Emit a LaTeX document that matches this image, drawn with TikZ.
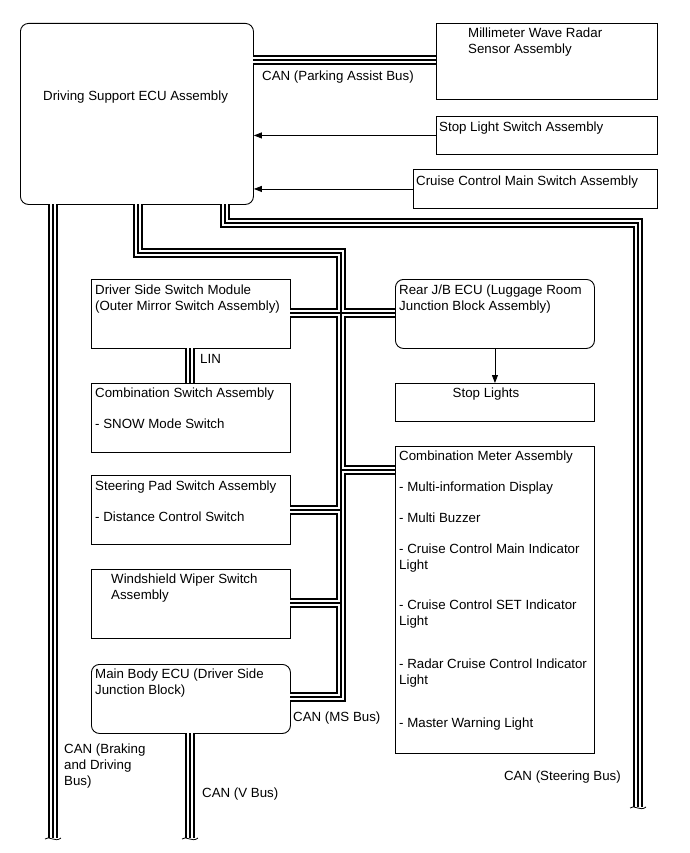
\documentclass[tikz,border=0pt]{standalone}
\usepackage{fontspec}
\setmainfont{Liberation Sans}
\usetikzlibrary{arrows.meta,calc}

\begin{document}
\begin{tikzpicture}[x=1pt,y=-1pt,
  box/.style={draw=black, line width=0.9pt, rectangle, inner sep=0pt, anchor=north west},
  rbox/.style={box, rounded corners=8pt},
  txt/.style={anchor=north west, inner sep=0pt, font=\fontsize{13.3}{16}\selectfont, align=left},
  busA/.style={line width=9.2pt, draw=black},
  busB/.style={line width=5.2pt, draw=white},
  busC/.style={line width=1.9pt, draw=black},
  sig/.style={draw=black, line width=0.8pt, -{Triangle[length=8pt,width=6pt]}},
  brk/.style={draw=black, line width=0.8pt}
]
\useasboundingbox (0,0) rectangle (689,853);

% boxes
\node[rbox, minimum width=233pt, minimum height=181pt] (ecu) at (20,23) {};
\node[box, minimum width=221pt, minimum height=76pt] (radar) at (436,23) {};
\node[box, minimum width=221pt, minimum height=38pt] (stopsw) at (436,116) {};
\node[box, minimum width=244pt, minimum height=39pt] (cruisesw) at (413,169) {};
\node[box, minimum width=199pt, minimum height=69pt] (dss) at (91,279) {};
\node[box, minimum width=199pt, minimum height=69pt] (combsw) at (91,383) {};
\node[box, minimum width=199pt, minimum height=69pt] (steer) at (91,475) {};
\node[box, minimum width=199pt, minimum height=69pt] (wiper) at (91,569) {};
\node[rbox, minimum width=199pt, minimum height=69pt] (mainbody) at (91,664) {};
\node[rbox, minimum width=199pt, minimum height=69pt] (rearjb) at (395,279) {};
\node[box, minimum width=199pt, minimum height=38pt] (stoplights) at (395,383) {};
\node[box, minimum width=199pt, minimum height=307pt] (meter) at (395,446) {};

% texts
\node[txt] (t-ecu) at (43,91) {Driving Support ECU Assembly};
\node[txt] (t-park) at (262,71) {CAN (Parking Assist Bus)};
\node[txt] (t-radar) at (468,28) {Millimeter Wave Radar\\Sensor Assembly};
\node[txt] (t-stopsw) at (439,122) {Stop Light Switch Assembly};
\node[txt] (t-cruisesw) at (416,176) {Cruise Control Main Switch Assembly};
\node[txt] (t-dss) at (95,285) {Driver Side Switch Module\\(Outer Mirror Switch Assembly)};
\node[txt] (t-lin) at (200,354) {LIN};
\node[txt] (t-combsw) at (95,388) {Combination Switch Assembly\\[15pt]- SNOW Mode Switch};
\node[txt] (t-steer) at (95,481) {Steering Pad Switch Assembly\\[15pt]- Distance Control Switch};
\node[txt] (t-wiper) at (111,574) {Windshield Wiper Switch\\Assembly};
\node[txt] (t-mainbody) at (95,669) {Main Body ECU (Driver Side\\Junction Block)};
\node[txt] (t-ms) at (293,712) {CAN (MS Bus)};
\node[txt] (t-brake) at (64,744) {CAN (Braking\\and Driving\\Bus)};
\node[txt] (t-vbus) at (202,788) {CAN (V Bus)};
\node[txt] (t-rearjb) at (399,285) {Rear J/B ECU (Luggage Room\\Junction Block Assembly)};
\node[txt, anchor=north] (t-stoplights) at (486,388) {Stop Lights};
\node[txt] (t-meter) at (399,451) {Combination Meter Assembly\\[15pt]- Multi-information Display\\[15pt]- Multi Buzzer\\[15pt]- Cruise Control Main Indicator\\Light\\[24pt]- Cruise Control SET Indicator\\Light\\[27pt]- Radar Cruise Control Indicator\\Light\\[27pt]- Master Warning Light};
\node[txt, anchor=north east] (t-steerbus) at (621,771) {CAN (Steering Bus)};

% bus coordinates
\coordinate (pk1) at (253,60);
\coordinate (pk2) at (436,60);
\coordinate (bd1) at (53,204);
\coordinate (bd2) at (53,838);
\coordinate (sb1) at (225,204);
\coordinate (sb2) at (225,223);
\coordinate (sb3) at (638,223);
\coordinate (sb4) at (638,807);
\coordinate (ms1) at (138,204);
\coordinate (ms2) at (138,253);
\coordinate (ms3) at (341,253);
\coordinate (ms4) at (341,697);
\coordinate (ms5) at (290,697);
\coordinate (jd1) at (290,313);
\coordinate (jd2) at (395,313);
\coordinate (js1) at (290,510);
\coordinate (js2) at (341,510);
\coordinate (jw1) at (290,603);
\coordinate (jw2) at (341,603);
\coordinate (jm1) at (341,470);
\coordinate (jm2) at (395,470);
\coordinate (ln1) at (190,348);
\coordinate (ln2) at (190,383);
\coordinate (vb1) at (190,733);
\coordinate (vb2) at (190,838);

\newcommand\drawbuses[1]{%
  \draw[#1] (pk1) -- (pk2);
  \draw[#1] (bd1) -- (bd2);
  \draw[#1] (sb1) -- (sb2) -- (sb3) -- (sb4);
  \draw[#1] (ms1) -- (ms2) -- (ms3) -- (ms4) -- (ms5);
  \draw[#1] (jd1) -- (jd2);
  \draw[#1] (js1) -- (js2);
  \draw[#1] (jw1) -- (jw2);
  \draw[#1] (jm1) -- (jm2);
  \draw[#1] (ln1) -- (ln2);
  \draw[#1] (vb1) -- (vb2);
}
\drawbuses{busA}
\drawbuses{busB}
\drawbuses{busC}

% break marks
\foreach \c in {bd2,vb2,sb4}{
  \draw[brk] ($(\c)+(-8,1)$) .. controls ($(\c)+(-4,-3)$) and ($(\c)+(2,5)$) .. ($(\c)+(8,0)$);
}

% signal arrows
\draw[sig] (stopsw.west) -- (stopsw.west -| ecu.east);
\draw[sig] (cruisesw.west) -- (cruisesw.west -| ecu.east);
\draw[sig] (rearjb.south) -- (stoplights.north);

\end{tikzpicture}
\end{document}
